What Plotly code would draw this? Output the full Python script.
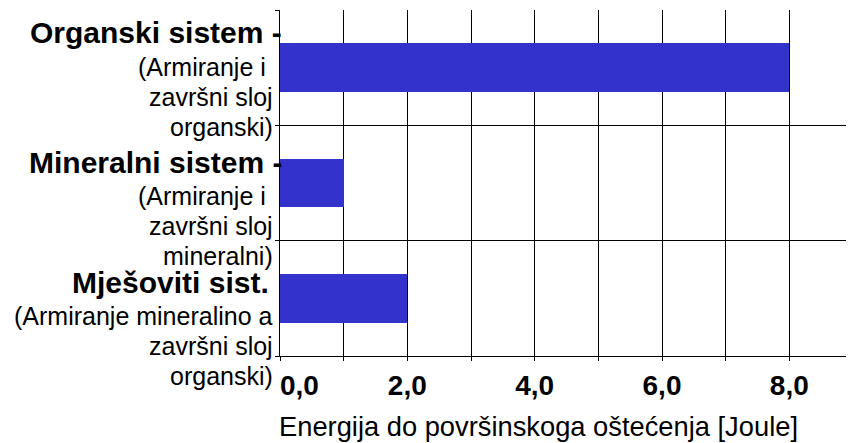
import plotly.graph_objects as go

# ---- data ----
categories = ["Organski sistem", "Mineralni sistem", "Mješoviti sist."]
label_titles = ["Organski sistem -", "Mineralni sistem -", "Mješoviti sist."]
label_details = [
    ["(Armiranje i\u00a0", "završni sloj", "organski)"],
    ["(Armiranje i\u00a0", "završni sloj", "mineralni)"],
    ["(Armiranje mineralino a", "završni sloj", "organski)"],
]
energy = [8.0, 1.0, 2.0]
x_tickvals = [0, 1, 2, 3, 4, 5, 6, 7, 8, 9]
x_ticktext = ["\u00a0" * 5 + "0,0", "", "2,0", "", "4,0", "", "6,0", "", "8,0", ""]
x_title = "Energija do površinskoga oštećenja [Joule]"

# ---- style / layout ----
FONT = "Liberation Sans, Arial, sans-serif"
BAR_COLOR = "#3333CC"
title_shift = [-35, -21, -16]      # px offset of bold line from category centre
title_xshift = [4, 4, -9]          # px horizontal nudge of bold line
detail_offsets = [34, 64, 94]      # px offsets of detail lines below the bold line

y_idx = list(range(len(categories)))

fig = go.Figure(
    go.Bar(
        x=energy,
        y=y_idx,
        orientation="h",
        width=0.42,
        marker=dict(color=BAR_COLOR, line=dict(width=0)),
        hoverinfo="x",
    )
)

annotations = []
for i in y_idx:
    annotations.append(dict(
        xref="paper", yref="y", x=0, y=i, xanchor="right", yanchor="middle",
        xshift=title_xshift[i], yshift=-title_shift[i], showarrow=False,
        text="<b>" + label_titles[i] + "</b>",
        font=dict(family=FONT, size=30, color="black"),
    ))
    for k, line in enumerate(label_details[i]):
        annotations.append(dict(
            xref="paper", yref="y", x=0, y=i, xanchor="right", yanchor="middle",
            xshift=-5, yshift=-(title_shift[i] + detail_offsets[k]), showarrow=False,
            text=line,
            font=dict(family=FONT, size=25, color="black"),
        ))

annotations.append(dict(
    xref="paper", yref="paper", x=0, y=0, xanchor="left", yanchor="middle",
    yshift=-70, xshift=-3, showarrow=False, text=x_title,
    font=dict(family=FONT, size=27.3, color="black"),
))

# the page body adds an 8px offset, so the figure is sized to fit inside it
fig.update_layout(
    width=846, height=435,
    margin=dict(l=272, r=1, t=2, b=87, autoexpand=False),
    paper_bgcolor="white", plot_bgcolor="white",
    showlegend=False,
    bargap=0,
    annotations=annotations,
    xaxis=dict(
        range=[0, 9],
        tickvals=x_tickvals, ticktext=x_ticktext,
        tickfont=dict(family=FONT, size=28, color="black", weight="bold"),
        showgrid=True, gridcolor="black", gridwidth=1,
        showline=True, linecolor="black", linewidth=1,
        ticks="outside", ticklen=4, tickcolor="black",
        zeroline=False, mirror=False, automargin=False,
    ),
    yaxis=dict(
        range=[2.5, -0.5],
        tickvals=[-0.5, 0.5, 1.5, 2.5], showticklabels=False,
        showgrid=True, gridcolor="black", gridwidth=1,
        showline=True, linecolor="black", linewidth=1,
        ticks="outside", ticklen=4, tickcolor="black",
        zeroline=False, automargin=False,
    ),
)

fig.write_html("out.html")
